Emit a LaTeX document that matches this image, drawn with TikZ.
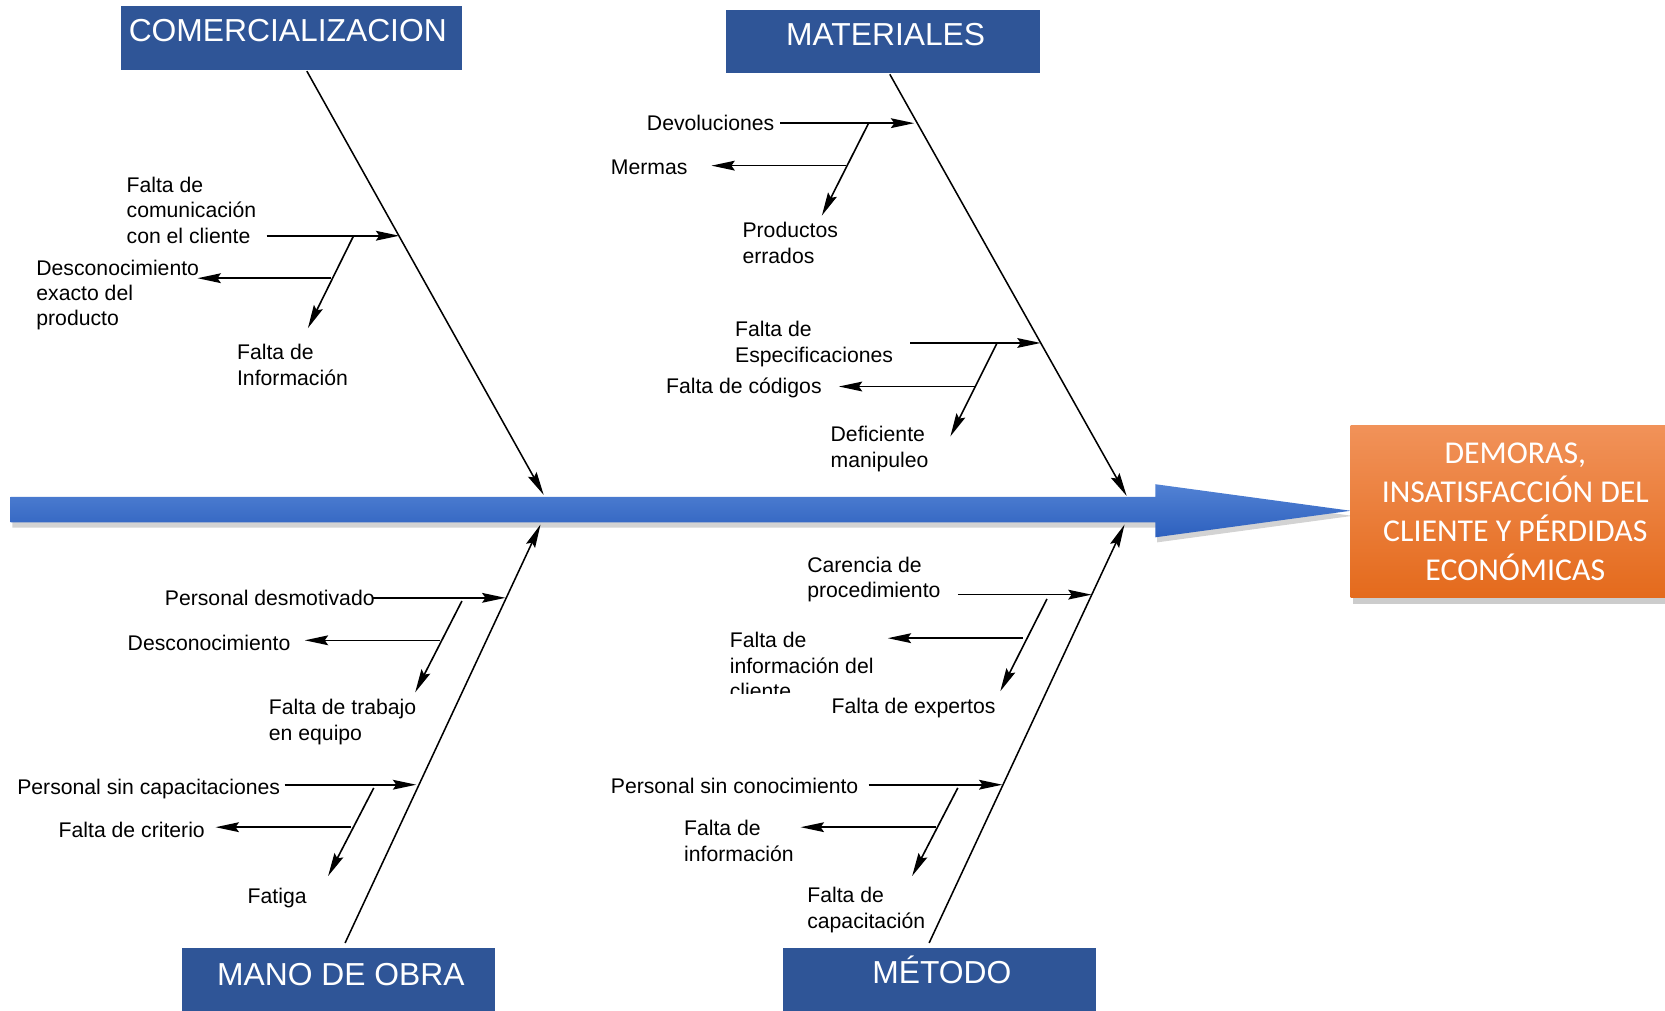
\documentclass[tikz,border=0pt]{standalone}
\usepackage{fontspec}
\setmainfont{Liberation Sans}
\newfontfamily\effectfont{Carlito}
\usepackage{xcolor}
\definecolor{header-blue}{HTML}{2F5597}
\definecolor{spine-top}{HTML}{5282D4}
\definecolor{spine-bottom}{HTML}{2D60BE}
\definecolor{effect-top}{HTML}{F19259}
\definecolor{effect-bottom}{HTML}{E46A1C}
\usepackage{tikz}
\usetikzlibrary{arrows.meta,shadows}

\tikzset{
    bone/.style={line width=0.36mm, -{Stealth[length=5.5mm, width=2.3mm, inset=0.8mm]}},
    branch/.style={line width=0.38mm, -{Stealth[length=5.5mm, width=2.3mm, inset=0.8mm]}},
    headertext/.style={anchor=base, text=white, inner sep=0,
        font=\fontsize{21.3pt}{25pt}\selectfont},
    causetext/.style={anchor=base west, align=left, inner sep=0,
        font=\fontsize{14.2pt}{17.07pt}\selectfont}
}

\begin{document}
\begin{tikzpicture}[x=0.25mm, y=-0.25mm]

    % Frame
    \useasboundingbox (0, 0) rectangle (1568, 952);

    % Spine
    \path[top color=spine-top, bottom color=spine-bottom,
        drop shadow={shadow xshift=0.4mm, shadow yshift=-1.2mm, opacity=0.35}]
        (10, 468) -- (1088, 468) -- (1088, 456) -- (1272, 481)
        -- (1088, 506) -- (1088, 492) -- (10, 492) -- cycle;

    % Effect
    \path[top color=effect-top, bottom color=effect-bottom,
        drop shadow={shadow xshift=0.5mm, shadow yshift=-1.5mm, opacity=0.4}]
        (1272, 401) rectangle (1568, 563);
    \node[text=white, align=center, inner sep=0,
        font=\effectfont\fontsize{21.3pt}{26.2pt}\selectfont] (efecto) at (1427, 482)
        {DEMORAS,\\INSATISFACCIÓN DEL\\CLIENTE Y PÉRDIDAS\\ECONÓMICAS};

    % Headers
    \fill[header-blue] (114, 6) rectangle (435, 66);
    \node[headertext] (com) at (271, 39) {COMERCIALIZACION};
    \fill[header-blue] (684, 9) rectangle (979, 69);
    \node[headertext] (mat) at (834, 43) {MATERIALES};
    \fill[header-blue] (171, 893) rectangle (466, 952);
    \node[headertext] (mo) at (321, 928) {MANO DE OBRA};
    \fill[header-blue] (737, 893) rectangle (1032, 952);
    \node[headertext] (met) at (887, 926) {MÉTODO};

    % Bones
    \coordinate (com-top) at (289, 67);   \coordinate (com-tip) at (512, 466);
    \coordinate (mat-top) at (838, 70);   \coordinate (mat-tip) at (1061, 467);
    \coordinate (mo-bot) at (325, 888);   \coordinate (mo-tip) at (509, 494);
    \coordinate (met-bot) at (875, 888);  \coordinate (met-tip) at (1059, 494);
    \draw[bone] (com-top) -- (com-tip);
    \draw[bone] (mat-top) -- (mat-tip);
    \draw[bone] (mo-bot) -- (mo-tip);
    \draw[bone] (met-bot) -- (met-tip);

    % Comercializacion causes
    \coordinate (com1-in) at (251, 222);  \coordinate (com1-hit) at (376, 222);
    \coordinate (com1-d) at (333, 222);   \coordinate (com1-e) at (290, 309);
    \coordinate (com1-b) at (312, 262);   \coordinate (com1-c) at (186, 262);
    \draw[branch] (com1-in) -- (com1-hit);
    \draw[branch] (com1-d) -- (com1-e);
    \draw[branch] (com1-b) -- (com1-c);
    \node[causetext] (com1-t1) at (119, 229) {Falta de\\comunicación\\con el cliente};
    \node[causetext] (com1-t2) at (34, 307) {Desconocimiento\\exacto del\\producto};
    \node[causetext] (com1-t3) at (223, 363) {Falta de\\Información};

    % Materiales causes
    \coordinate (mat1-in) at (735, 116);  \coordinate (mat1-hit) at (861, 116);
    \coordinate (mat1-d) at (818, 116);   \coordinate (mat1-e) at (774, 203);
    \coordinate (mat1-b) at (797, 156);   \coordinate (mat1-c) at (670, 156);
    \draw[branch] (mat1-in) -- (mat1-hit);
    \draw[branch] (mat1-d) -- (mat1-e);
    \draw[branch] (mat1-b) -- (mat1-c);
    \node[causetext] (mat1-t1) at (609, 123) {Devoluciones};
    \node[causetext] (mat1-t2) at (575, 164) {Mermas};
    \node[causetext] (mat1-t3) at (699, 248) {Productos\\errados};

    \coordinate (mat2-in) at (857, 323);  \coordinate (mat2-hit) at (980, 323);
    \coordinate (mat2-d) at (939, 323);   \coordinate (mat2-e) at (895, 411);
    \coordinate (mat2-b) at (918, 364);   \coordinate (mat2-c) at (790, 364);
    \draw[branch] (mat2-in) -- (mat2-hit);
    \draw[branch] (mat2-d) -- (mat2-e);
    \draw[branch] (mat2-b) -- (mat2-c);
    \node[causetext] (mat2-t1) at (692, 341) {Falta de\\Especificaciones};
    \node[causetext] (mat2-t2) at (627, 371) {Falta de códigos};
    \node[causetext] (mat2-t3) at (782, 440) {Deficiente\\manipuleo};

    % Mano de obra causes
    \coordinate (mo1-in) at (351, 563);   \coordinate (mo1-hit) at (476, 563);
    \coordinate (mo1-d) at (435, 566);    \coordinate (mo1-e) at (391, 652);
    \coordinate (mo1-b) at (414, 603);    \coordinate (mo1-c) at (287, 603);
    \draw[branch] (mo1-in) -- (mo1-hit);
    \draw[branch] (mo1-d) -- (mo1-e);
    \draw[branch] (mo1-b) -- (mo1-c);
    \node[causetext] (mo1-t1) at (155, 570) {Personal desmotivado};
    \node[causetext] (mo1-t2) at (120, 613) {Desconocimiento};
    \node[causetext] (mo1-t3) at (253, 697) {Falta de trabajo\\en equipo};

    \coordinate (mo2-in) at (268, 739);   \coordinate (mo2-hit) at (392, 739);
    \coordinate (mo2-d) at (352, 742);    \coordinate (mo2-e) at (309, 825);
    \coordinate (mo2-b) at (331, 779);    \coordinate (mo2-c) at (203, 779);
    \draw[branch] (mo2-in) -- (mo2-hit);
    \draw[branch] (mo2-d) -- (mo2-e);
    \draw[branch] (mo2-b) -- (mo2-c);
    \node[causetext] (mo2-t1) at (16, 748) {Personal sin capacitaciones};
    \node[causetext] (mo2-t2) at (55, 789) {Falta de criterio};
    \node[causetext] (mo2-t3) at (233, 851) {Fatiga};

    % Metodo causes
    \coordinate (met1-in) at (902, 560);  \coordinate (met1-hit) at (1028, 560);
    \coordinate (met1-d) at (986, 564);   \coordinate (met1-e) at (942, 651);
    \coordinate (met1-b) at (963, 601);   \coordinate (met1-c) at (836, 601);
    \draw[branch] (met1-in) -- (met1-hit);
    \draw[branch] (met1-d) -- (met1-e);
    \draw[branch] (met1-b) -- (met1-c);
    \node[causetext] (met1-t1) at (760, 563) {Carencia de\\procedimiento};
    \begin{scope}
        \clip (680, 585) rectangle (840, 653);
        \node[causetext] (met1-t2) at (687, 658) {Falta de\\información del\\cliente};
    \end{scope}
    \node[causetext] (met1-t3) at (783, 672) {Falta de expertos};

    \coordinate (met2-in) at (818, 739);  \coordinate (met2-hit) at (944, 739);
    \coordinate (met2-d) at (902, 742);   \coordinate (met2-e) at (859, 825);
    \coordinate (met2-b) at (881, 779);   \coordinate (met2-c) at (754, 779);
    \draw[branch] (met2-in) -- (met2-hit);
    \draw[branch] (met2-d) -- (met2-e);
    \draw[branch] (met2-b) -- (met2-c);
    \node[causetext] (met2-t1) at (575, 747) {Personal sin conocimiento};
    \node[causetext] (met2-t2) at (644, 811) {Falta de\\información};
    \node[causetext] (met2-t3) at (760, 874) {Falta de\\capacitación};

\end{tikzpicture}
\end{document}
